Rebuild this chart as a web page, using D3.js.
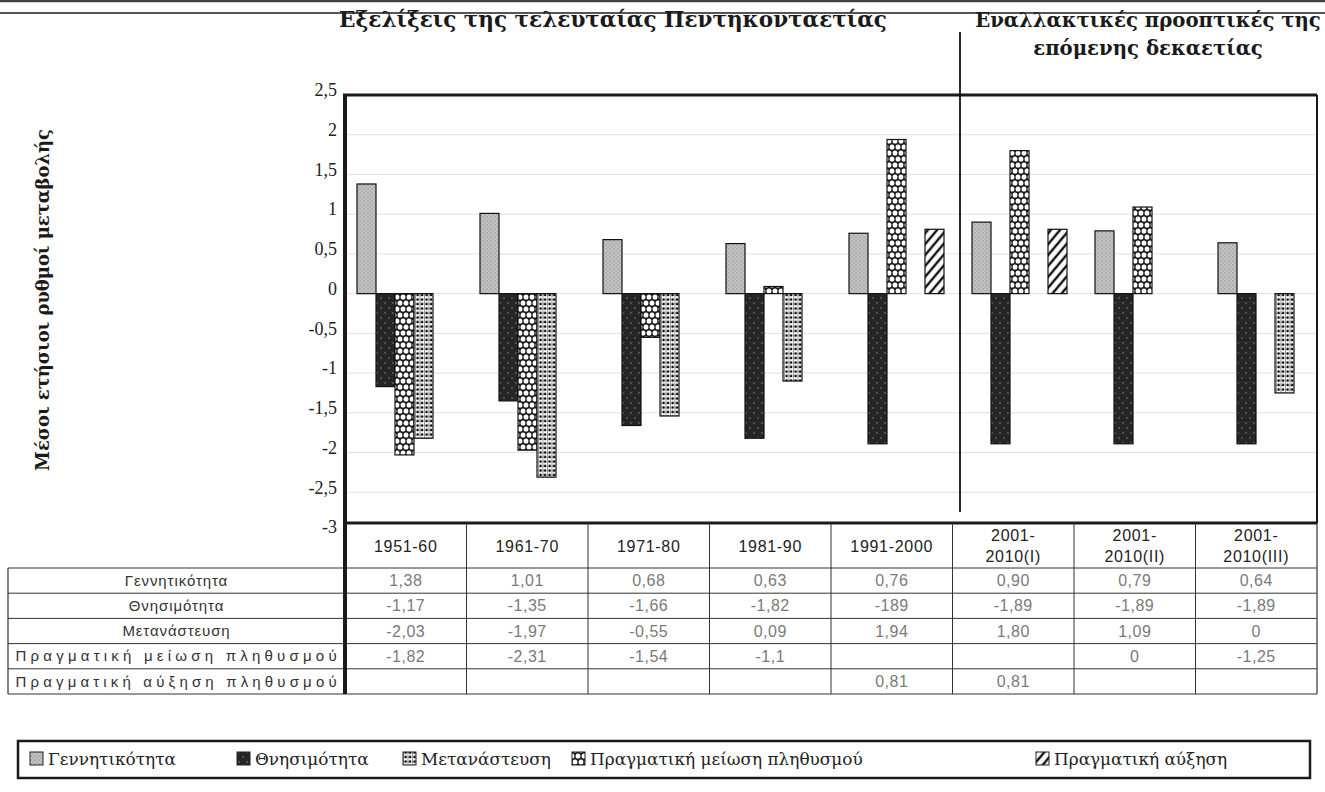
<!DOCTYPE html>
<html>
<head>
<meta charset="utf-8">
<script src="https://cdn.jsdelivr.net/npm/d3@7"></script>
<style>
  body { margin: 0; background: #fff; }
  svg { display: block; }
</style>
</head>
<body>
<svg id="chart" width="1325" height="792"></svg>
<script>
// Periods (x categories)
const categories = ["1951-60", "1961-70", "1971-80", "1981-90", "1991-2000",
  "2001-2010(I)", "2001-2010(II)", "2001-2010(III)"];
const headerLines = [["1951-60"], ["1961-70"], ["1971-80"], ["1981-90"], ["1991-2000"],
  ["2001-", "2010(I)"], ["2001-", "2010(II)"], ["2001-", "2010(III)"]];

// Series values (average annual rates)
const births    = [1.38, 1.01, 0.68, 0.63, 0.76, 0.90, 0.79, 0.64];
const deaths    = [-1.17, -1.35, -1.66, -1.82, -1.89, -1.89, -1.89, -1.89];
const migration = [-2.03, -1.97, -0.55, 0.09, 1.94, 1.80, 1.09, 0];
const decrease  = [-1.82, -2.31, -1.54, -1.1, null, null, 0, -1.25];
const increase  = [null, null, null, null, 0.81, 0.81, null, null];

// Table cell text, as printed
const birthsText    = ["1,38", "1,01", "0,68", "0,63", "0,76", "0,90", "0,79", "0,64"];
const deathsText    = ["-1,17", "-1,35", "-1,66", "-1,82", "-189", "-1,89", "-1,89", "-1,89"];
const migrationText = ["-2,03", "-1,97", "-0,55", "0,09", "1,94", "1,80", "1,09", "0"];
const decreaseText  = ["-1,82", "-2,31", "-1,54", "-1,1", "", "", "0", "-1,25"];
const increaseText  = ["", "", "", "", "0,81", "0,81", "", ""];

const yTicks = [2.5, 2, 1.5, 1, 0.5, 0, -0.5, -1, -1.5, -2, -2.5, -3];

const series = [
  { key: "births", label: "Γεννητικότητα", values: births, text: birthsText, fill: "url(#pBirths)", legendFill: "url(#pBirths)" },
  { key: "deaths", label: "Θνησιμότητα", values: deaths, text: deathsText, fill: "url(#pDeaths)", legendFill: "url(#pDeaths)" },
  { key: "migration", label: "Μετανάστευση", values: migration, text: migrationText, fill: "url(#pMigr)", legendFill: "url(#pDecr)" },
  { key: "decrease", label: "Πραγματική μείωση πληθυσμού", values: decrease, text: decreaseText, fill: "url(#pDecr)", legendFill: "url(#pMigr)" },
  { key: "increase", label: "Πραγματική αύξηση πληθυσμού", values: increase, text: increaseText, fill: "url(#pIncr)", legendFill: "url(#pIncr)" }
];
const legendLabels = ["Γεννητικότητα", "Θνησιμότητα", "Μετανάστευση", "Πραγματική μείωση πληθυσμού", "Πραγματική αύξηση"];
const legendX = [30, 237, 403, 572, 1036];

const svg = d3.select("#chart");
const serif = "'DejaVu Serif', serif";
const sans = "'Liberation Sans', Arial, sans-serif";

// scale a text's font size so it spans the wanted width
function fitWidth(sel, target) {
  sel.each(function() {
    const t = d3.select(this);
    const w = this.getComputedTextLength();
    const fs = +t.attr("font-size");
    t.attr("font-size", (fs * target / w).toFixed(2));
  });
  return sel;
}

// frame of the plot
const frame = { left: 345, right: 1317, top: 95, bottom: 523 };

// patterns
const defs = svg.append("defs");
const pb = defs.append("pattern").attr("id", "pBirths").attr("patternUnits", "userSpaceOnUse")
  .attr("width", 4).attr("height", 4);
pb.append("rect").attr("width", 4).attr("height", 4).attr("fill", "#c2c2c2");
pb.append("circle").attr("cx", 1).attr("cy", 1).attr("r", 0.7).attr("fill", "#888");
pb.append("circle").attr("cx", 3).attr("cy", 3).attr("r", 0.7).attr("fill", "#999");

const pd = defs.append("pattern").attr("id", "pDeaths").attr("patternUnits", "userSpaceOnUse")
  .attr("width", 8).attr("height", 10);
pd.append("rect").attr("width", 8).attr("height", 10).attr("fill", "#262626");
pd.append("circle").attr("cx", 2).attr("cy", 3).attr("r", 0.7).attr("fill", "#999");
pd.append("circle").attr("cx", 6).attr("cy", 8).attr("r", 0.7).attr("fill", "#999");

const pm = defs.append("pattern").attr("id", "pMigr").attr("patternUnits", "userSpaceOnUse")
  .attr("width", 6).attr("height", 12);
pm.append("rect").attr("width", 6).attr("height", 12).attr("fill", "#1a1a1a");
pm.append("ellipse").attr("cx", 3).attr("cy", 3).attr("rx", 2.4).attr("ry", 2.6).attr("fill", "#fff");
pm.append("ellipse").attr("cx", 0).attr("cy", 9).attr("rx", 2.4).attr("ry", 2.6).attr("fill", "#fff");
pm.append("ellipse").attr("cx", 6).attr("cy", 9).attr("rx", 2.4).attr("ry", 2.6).attr("fill", "#fff");

const pr = defs.append("pattern").attr("id", "pDecr").attr("patternUnits", "userSpaceOnUse")
  .attr("width", 4.5).attr("height", 4.5);
pr.append("rect").attr("width", 4.5).attr("height", 4.5).attr("fill", "#fff");
pr.append("line").attr("x1", 0.3).attr("x2", 0.3).attr("y1", 0).attr("y2", 4.5).attr("stroke", "#555").attr("stroke-width", 0.7);
pr.append("circle").attr("cx", 2.6).attr("cy", 2.4).attr("r", 1.35).attr("fill", "#000");

const pi = defs.append("pattern").attr("id", "pIncr").attr("patternUnits", "userSpaceOnUse")
  .attr("width", 7).attr("height", 7).attr("patternTransform", "rotate(40)");
pi.append("rect").attr("width", 7).attr("height", 7).attr("fill", "#fff");
pi.append("line").attr("x1", 2).attr("x2", 2).attr("y1", 0).attr("y2", 7).attr("stroke", "#111").attr("stroke-width", 2.4);

// scales
const y = d3.scaleLinear().domain([-3, 2.5]).range([532, 95]);
const x0 = d3.scaleBand().domain(categories).range([343, 1327]);
const x1 = d3.scaleBand().domain(series.map(s => s.key)).range([14, 109]);
const xt = d3.scaleBand().domain(categories).range([frame.left, frame.right]);

// top rules
svg.append("line").attr("x1", 0).attr("x2", 1325).attr("y1", 1).attr("y2", 1)
  .attr("stroke", "#444").attr("stroke-width", 2.5);
svg.append("line").attr("x1", 0).attr("x2", 1325).attr("y1", 13).attr("y2", 13)
  .attr("stroke", "#555").attr("stroke-width", 2);

// gridlines
svg.append("g").selectAll("line")
  .data(yTicks.filter(v => v < 2.5 && v > -3))
  .join("line")
  .attr("x1", frame.left).attr("x2", frame.right)
  .attr("y1", d => y(d)).attr("y2", d => y(d))
  .attr("stroke", "#e2e2e2").attr("stroke-width", 1);

// y tick labels
svg.append("g").selectAll("text")
  .data(yTicks)
  .join("text")
  .attr("x", 337)
  .attr("y", d => y(d) - 5)
  .attr("dy", "0.35em")
  .attr("text-anchor", "end")
  .attr("font-family", "'Liberation Serif', serif")
  .attr("font-size", 18)
  .attr("fill", "#222")
  .text(d => String(d).replace(".", ","));

// bars
const groups = svg.append("g").selectAll("g")
  .data(categories)
  .join("g")
  .attr("transform", d => `translate(${x0(d)},0)`);

groups.selectAll("rect")
  .data((d, i) => series
    .map(s => ({ key: s.key, fill: s.fill, value: s.values[i] }))
    .filter(b => b.value !== null && b.value !== 0))
  .join("rect")
  .attr("x", d => x1(d.key))
  .attr("width", x1.bandwidth())
  .attr("y", d => y(Math.max(0, d.value)))
  .attr("height", d => Math.abs(y(d.value) - y(0)))
  .attr("fill", d => d.fill)
  .attr("stroke", "#111")
  .attr("stroke-width", 1.2);

// plot frame
svg.append("line").attr("x1", frame.left - 2).attr("x2", frame.right).attr("y1", frame.top).attr("y2", frame.top)
  .attr("stroke", "#1a1a1a").attr("stroke-width", 3);
svg.append("line").attr("x1", frame.right).attr("x2", frame.right).attr("y1", frame.top).attr("y2", frame.bottom)
  .attr("stroke", "#1a1a1a").attr("stroke-width", 2);
svg.append("line").attr("x1", frame.left - 2).attr("x2", frame.right).attr("y1", frame.bottom).attr("y2", frame.bottom)
  .attr("stroke", "#1a1a1a").attr("stroke-width", 3);

// divider between past and projections
const divX = x0(categories[5]) + 2;
svg.append("line").attr("x1", divX).attr("x2", divX).attr("y1", 32).attr("y2", 512)
  .attr("stroke", "#111").attr("stroke-width", 1.8);

// titles
const titleL = svg.append("text").attr("x", 613).attr("y", 27).attr("text-anchor", "middle")
  .attr("font-family", serif).attr("font-weight", "bold").attr("font-size", 19)
  .attr("fill", "#1a1a1a")
  .text("Εξελίξεις της τελευταίας Πεντηκονταετίας");
fitWidth(titleL, 548);
const titleR = svg.append("text").attr("x", 1148).attr("y", 27).attr("text-anchor", "middle")
  .attr("font-family", serif).attr("font-weight", "bold").attr("font-size", 19)
  .attr("fill", "#1a1a1a")
  .text("Εναλλακτικές προοπτικές της");
fitWidth(titleR, 346);
svg.append("text").attr("x", 1148).attr("y", 55).attr("text-anchor", "middle")
  .attr("font-family", serif).attr("font-weight", "bold").attr("font-size", titleR.attr("font-size"))
  .attr("fill", "#1a1a1a")
  .text("επόμενης δεκαετίας");

// y axis title
const yTitle = svg.append("text")
  .attr("transform", "translate(49,300) rotate(-90)")
  .attr("text-anchor", "middle")
  .attr("font-family", serif).attr("font-weight", "bold").attr("font-size", 19)
  .attr("fill", "#1a1a1a")
  .text("Μέσοι ετήσιοι ρυθμοί μεταβολής");
fitWidth(yTitle, 342);

// data table
const table = { left: 8, rowTop: 568, rowH: 25.2 };
const tableBottom = table.rowTop + table.rowH * series.length;
const tg = svg.append("g");

// horizontal rules
tg.selectAll("line.h")
  .data(d3.range(series.length + 1))
  .join("line")
  .attr("class", "h")
  .attr("x1", table.left).attr("x2", frame.right)
  .attr("y1", i => table.rowTop + i * table.rowH).attr("y2", i => table.rowTop + i * table.rowH)
  .attr("stroke", "#333").attr("stroke-width", 1);

// vertical rules
tg.selectAll("line.v")
  .data(categories.slice(1))
  .join("line")
  .attr("class", "v")
  .attr("x1", d => xt(d)).attr("x2", d => xt(d))
  .attr("y1", frame.bottom).attr("y2", tableBottom)
  .attr("stroke", "#333").attr("stroke-width", 1);
tg.append("line").attr("x1", table.left).attr("x2", table.left)
  .attr("y1", table.rowTop).attr("y2", tableBottom).attr("stroke", "#333").attr("stroke-width", 1.2);
tg.append("line").attr("x1", frame.right).attr("x2", frame.right)
  .attr("y1", frame.bottom).attr("y2", tableBottom).attr("stroke", "#333").attr("stroke-width", 1.2);
// thick left axis line through the table
svg.append("line").attr("x1", frame.left).attr("x2", frame.left).attr("y1", frame.top - 1).attr("y2", tableBottom)
  .attr("stroke", "#1a1a1a").attr("stroke-width", 4);

// header labels
const hdr = tg.append("g").selectAll("text")
  .data(categories)
  .join("text")
  .attr("x", d => xt(d) + xt.bandwidth() / 2)
  .attr("y", (d, i) => headerLines[i].length === 1 ? 546 : 535)
  .attr("text-anchor", "middle")
  .attr("font-family", sans).attr("font-size", 16).attr("letter-spacing", 0.7)
  .attr("fill", "#222");
hdr.each(function(d, i) {
  d3.select(this).selectAll("tspan")
    .data(headerLines[i])
    .join("tspan")
    .attr("x", xt(d) + xt.bandwidth() / 2)
    .attr("dy", (t, j) => j === 0 ? "0.35em" : "1.35em")
    .text(t => t);
});

// row labels and cells
const rows = tg.append("g").selectAll("g")
  .data(series)
  .join("g")
  .attr("transform", (d, i) => `translate(0,${table.rowTop + (i + 0.5) * table.rowH})`);
rows.append("text")
  .attr("x", (table.left + frame.left) / 2)
  .attr("dy", "0.35em")
  .attr("text-anchor", "middle")
  .attr("font-family", sans).attr("font-size", 15).attr("letter-spacing", 0.9)
  .attr("fill", "#333")
  .text(d => d.label)
  .filter(d => d.label.length > 20)
  .attr("textLength", 322)
  .attr("lengthAdjust", "spacing");
rows.selectAll("text.cell")
  .data(d => d.text.map((t, i) => ({ t, c: categories[i] })))
  .join("text")
  .attr("class", "cell")
  .attr("x", d => xt(d.c) + xt.bandwidth() / 2)
  .attr("dy", "0.35em")
  .attr("text-anchor", "middle")
  .attr("font-family", sans).attr("font-size", 16).attr("letter-spacing", 0.5)
  .attr("fill", "#7a7a7a")
  .text(d => d.t);

// legend
const lg = svg.append("g");
lg.append("rect").attr("x", 18).attr("y", 741).attr("width", 1292).attr("height", 37)
  .attr("fill", "none").attr("stroke", "#1a1a1a").attr("stroke-width", 2.5);
const items = lg.selectAll("g.item")
  .data(series)
  .join("g")
  .attr("class", "item")
  .attr("transform", (d, i) => `translate(${legendX[i]},759)`);
items.append("rect")
  .attr("x", 0).attr("y", -7).attr("width", 13).attr("height", 13)
  .attr("fill", d => d.legendFill).attr("stroke", "#222").attr("stroke-width", 1);
const legendText = items.append("text")
  .attr("x", 18).attr("dy", "0.35em")
  .attr("font-family", serif).attr("font-size", 16)
  .attr("fill", "#222")
  .text((d, i) => legendLabels[i]);
// size taken from the first entry
const first = legendText.filter((d, i) => i === 0);
fitWidth(first, 128);
legendText.attr("font-size", first.attr("font-size"));
</script>
</body>
</html>
